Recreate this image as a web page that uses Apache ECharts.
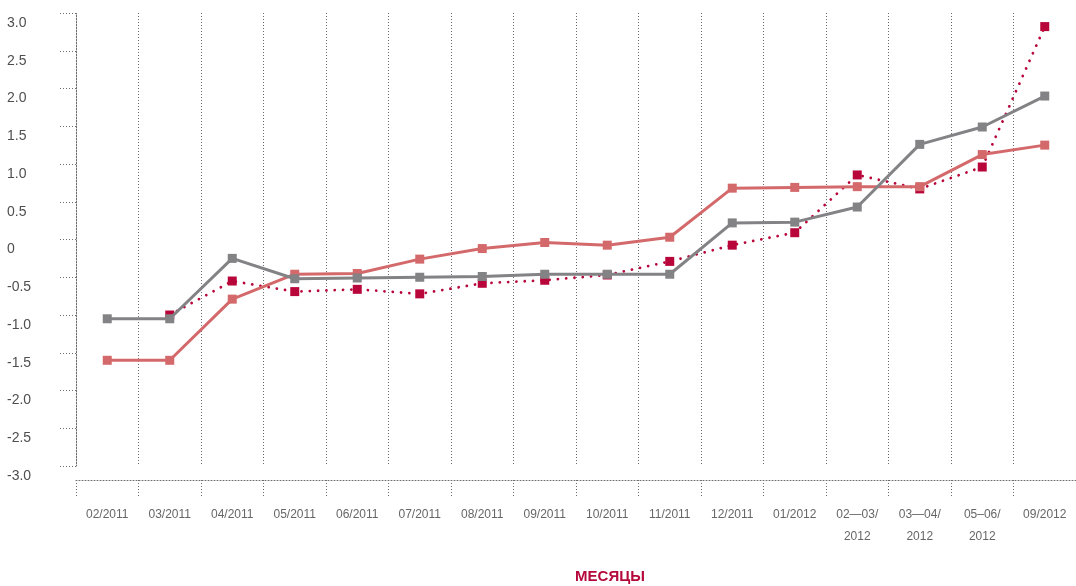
<!DOCTYPE html>
<html>
<head>
<meta charset="utf-8">
<script src="https://cdn.jsdelivr.net/npm/echarts@6/dist/echarts.min.js"></script>
<style>
html,body{margin:0;padding:0;background:#fff;}
#chart{width:1076px;height:586px;}
</style>
</head>
<body>
<div id="chart"></div>
<script>
var categories = ['02/2011','03/2011','04/2011','05/2011','06/2011','07/2011','08/2011','09/2011','10/2011','11/2011','12/2011','01/2012','02\u201403/\n2012','03\u201404/\n2012','05\u201306/\n2012','09/2012'];
var graySeries = [-1.05,-1.05,-0.25,-0.52,-0.51,-0.50,-0.49,-0.46,-0.46,-0.46,0.22,0.23,0.43,1.26,1.49,1.90];
var pinkSeries = [-1.60,-1.60,-0.79,-0.46,-0.45,-0.26,-0.12,-0.04,-0.075,0.03,0.68,0.69,0.70,0.70,1.125,1.25];
var dottedSeries = [null,-1.00,-0.55,-0.69,-0.66,-0.72,-0.58,-0.54,-0.47,-0.29,-0.075,0.09,0.855,0.67,0.96,2.82];
var yTickValues = [-3,-2.5,-2,-1.5,-1,-0.5,0,0.5,1,1.5,2,2.5,3];
var yTickLabels = ['-3.0','-2.5','-2.0','-1.5','-1.0','-0.5','0','0.5','1.0','1.5','2.0','2.5','3.0'];
var xAxisTitle = 'МЕСЯЦЫ';

var FONT = '"Liberation Sans Narrow", "Liberation Sans", Arial, sans-serif';
var dotGrid = {color:'#6e6e6e', width:1, type:[1,2]};

var chart = echarts.init(document.getElementById('chart'), null, {renderer:'canvas'});
chart.setOption({
  animation:false,
  backgroundColor:'#ffffff',
  grid:{left:76, top:13, width:1005, height:453, containLabel:false},
  xAxis:{
    type:'category',
    data:categories,
    boundaryGap:true,
    offset:14,
    axisLine:{show:true, onZero:false, lineStyle:dotGrid},
    axisTick:{show:true, length:17, interval:0, lineStyle:dotGrid},
    axisLabel:{interval:0, margin:24, color:'#666666', fontFamily:FONT, fontSize:12, lineHeight:22},
    splitLine:{show:true, interval:0, lineStyle:dotGrid}
  },
  yAxis:{
    type:'value',
    min:-3, max:3, interval:0.5,
    axisLine:{show:true, lineStyle:dotGrid},
    axisTick:{show:true, length:18, lineStyle:dotGrid},
    axisLabel:{
      align:'left', margin:69, color:'#4f4f4f', fontFamily:FONT, fontSize:14,
      verticalAlign:'top', lineHeight:16, padding:[2,0,0,0],
      formatter:function(v){var i=yTickValues.indexOf(Math.round(v*10)/10);return i>=0?yTickLabels[i]:'';}
    },
    splitLine:{show:false}
  },
  graphic:[{
    type:'text', x:610, y:577,
    style:{text:xAxisTitle, align:'center', verticalAlign:'middle', fill:'#b5093b',
      font:'bold 15px "Liberation Sans Narrow", "Liberation Sans", sans-serif'}
  }],
  series:[
    {name:'dotted', type:'line', data:dottedSeries, symbol:'rect', symbolSize:9,
      itemStyle:{color:'#b8063b'},
      lineStyle:{color:'#b8063b', width:2.8, type:[0.01,8.3], cap:'round'}, z:2},
    {name:'pink', type:'line', data:pinkSeries, symbol:'rect', symbolSize:9,
      itemStyle:{color:'#d4696b'},
      lineStyle:{color:'#d4696b', width:3}, z:3},
    {name:'gray', type:'line', data:graySeries, symbol:'rect', symbolSize:9,
      itemStyle:{color:'#838386'},
      lineStyle:{color:'#838386', width:3}, z:4}
  ]
});
</script>
</body>
</html>
